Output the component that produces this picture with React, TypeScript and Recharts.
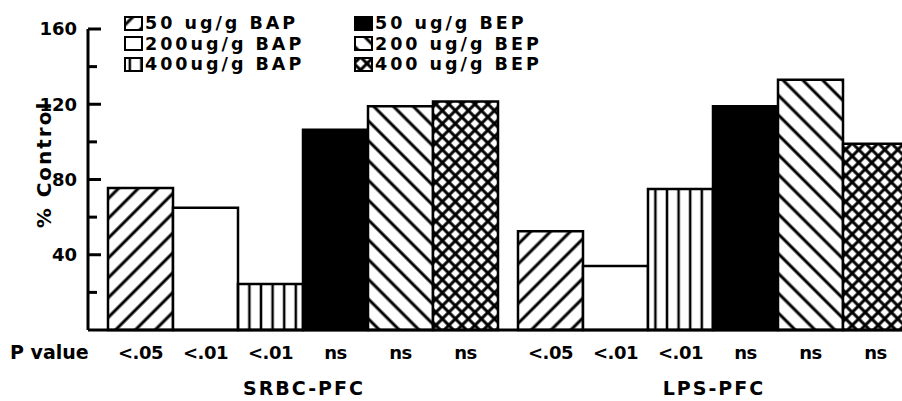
import React from "react";
import { BarChart, Bar, XAxis, YAxis, Legend, LabelList } from "recharts";

// values (% of control)
const groups = ["SRBC-PFC", "LPS-PFC"];
const bap50Values = [75.5, 52.5];
const bap200Values = [65, 34];
const bap400Values = [24.5, 75];
const bep50Values = [106.5, 119];
const bep200Values = [119, 133];
const bep400Values = [121.5, 99];

const srbcPValues = ["<.05", "<.01", "<.01", "ns", "ns", "ns"];
const lpsPValues = ["<.05", "<.01", "<.01", "ns", "ns", "ns"];

const seriesKeys = ["bap50", "bap200", "bap400", "bep50", "bep200", "bep400"];
const seriesNames = [
  "50 ug/g BAP",
  "200ug/g BAP",
  "400ug/g BAP",
  "50 ug/g BEP",
  "200 ug/g BEP",
  "400 ug/g BEP",
];
const yTicks = [0, 20, 40, 60, 80, 100, 120, 140, 160];

const seriesValues = [bap50Values, bap200Values, bap400Values, bep50Values, bep200Values, bep400Values];
const pValues = [srbcPValues, lpsPValues];

const fills = ["url(#hatchFwd)", "#fff", "url(#vLines)", "#000", "url(#hatchBack)", "url(#crossHatch)"];

const data = groups.map((g, i) => {
  const row: Record<string, string | number> = { group: g };
  seriesKeys.forEach((k, j) => {
    row[k] = seriesValues[j][i];
    row[k + "P"] = pValues[i][j];
  });
  return row;
});

const FONT = "'DejaVu Sans', sans-serif";

const YTick = (props: any) => {
  const { x, y, payload } = props;
  const v = payload.value;
  if (v === 0) return null;
  const major = v % 40 === 0;
  return (
    <g>
      <line x1={x} x2={x + (major ? 13 : 9)} y1={y} y2={y} stroke="#000" strokeWidth={3} />
      {major && (
        <text x={x - 11} y={y} dy="0.36em" textAnchor="end" fontFamily={FONT} fontWeight="bold" fontSize={18} fill="#000">
          {v}
        </text>
      )}
    </g>
  );
};

const XTick = (props: any) => {
  const { x, y, payload } = props;
  return (
    <text x={x} y={y} dy={65} textAnchor="middle" fontFamily={FONT} fontWeight="bold" fontSize={19} letterSpacing={2} fill="#000">
      {payload.value}
    </text>
  );
};

const PLabel = (props: any) => {
  const { x, y, width, height, value } = props;
  return (
    <text x={x + width / 2} y={y + height + 29} textAnchor="middle" fontFamily={FONT} fontWeight="bold" fontSize={18} letterSpacing={-0.5} fill="#000">
      {value}
    </text>
  );
};

const LegendBox = () => (
  <div
    style={{
      display: "grid",
      gridTemplateColumns: "230px 230px",
      gridTemplateRows: "repeat(3, 20.5px)",
      gridAutoFlow: "column",
      fontFamily: FONT,
      fontWeight: "bold",
      fontSize: 17.5,
      lineHeight: "20.5px",
      color: "#000",
    }}
  >
    {seriesNames.map((name, i) => (
      <div key={name} style={{ display: "flex", alignItems: "center", height: 20.5, whiteSpace: "pre" }}>
        <svg width={19} height={15} style={{ flex: "none" }}>
          <rect x={1} y={1} width={17} height={13} fill={fills[i]} stroke="#000" strokeWidth={2} />
        </svg>
        <span style={{ marginLeft: 2, letterSpacing: 3 }}>{name}</span>
      </div>
    ))}
  </div>
);

export default function App() {
  return (
    <div style={{ position: "absolute", left: 0, top: 0, width: 902, height: 401, overflow: "hidden", background: "#fff" }}>
      <BarChart
        width={930}
        height={401}
        data={data}
        margin={{ top: 29, right: 11, bottom: 0, left: 0 }}
        barGap={0}
        barCategoryGap={9}
      >
        <defs>
          <pattern id="hatchFwd" patternUnits="userSpaceOnUse" width={14} height={14} patternTransform="rotate(45)">
            <rect width={14} height={14} fill="#fff" />
            <line x1={7} y1={0} x2={7} y2={14} stroke="#000" strokeWidth={3} />
          </pattern>
          <pattern id="hatchBack" patternUnits="userSpaceOnUse" width={14} height={14} patternTransform="rotate(-45)">
            <rect width={14} height={14} fill="#fff" />
            <line x1={7} y1={0} x2={7} y2={14} stroke="#000" strokeWidth={3} />
          </pattern>
          <pattern id="vLines" patternUnits="userSpaceOnUse" width={11.6} height={10}>
            <rect width={11.6} height={10} fill="#fff" />
            <line x1={5.8} y1={0} x2={5.8} y2={10} stroke="#000" strokeWidth={2.5} />
          </pattern>
          <pattern id="crossHatch" patternUnits="userSpaceOnUse" width={9.2} height={9.2} patternTransform="rotate(45)">
            <rect width={9.2} height={9.2} fill="#fff" />
            <line x1={4.6} y1={0} x2={4.6} y2={9.2} stroke="#000" strokeWidth={3} />
            <line x1={0} y1={4.6} x2={9.2} y2={4.6} stroke="#000" strokeWidth={3} />
          </pattern>
        </defs>
        <XAxis
          dataKey="group"
          height={71}
          padding={{ left: 11, right: 0 }}
          axisLine={{ stroke: "#000", strokeWidth: 3 }}
          tickLine={false}
          tickSize={0}
          tickMargin={0}
          tick={<XTick />}
          label={{
            content: (p: any) => (
              <text x={p.viewBox.x - 78} y={p.viewBox.y + 29} fontFamily={FONT} fontWeight="bold" fontSize={19} fill="#000">
                P value
              </text>
            ),
          }}
        />
        <YAxis
          width={88}
          domain={[0, 160]}
          ticks={yTicks}
          interval={0}
          axisLine={{ stroke: "#000", strokeWidth: 3 }}
          tickLine={false}
          tickSize={0}
          tickMargin={0}
          tick={<YTick />}
          label={{
            content: (p: any) => (
              <text
                x={p.viewBox.x + 44}
                y={p.viewBox.y + p.viewBox.height / 2 - 15}
                transform={`rotate(-90, ${p.viewBox.x + 44}, ${p.viewBox.y + p.viewBox.height / 2 - 15})`}
                textAnchor="middle"
                dy="0.36em"
                fontFamily={FONT}
                fontWeight="bold"
                fontSize={20}
                letterSpacing={2}
                fill="#000"
              >
                % Control
              </text>
            ),
          }}
        />
        <Legend
          layout="horizontal"
          verticalAlign="middle"
          align="center"
          content={<LegendBox />}
          wrapperStyle={{ position: "absolute", left: 124, top: 13, width: "auto" }}
        />
        {seriesKeys.map((k, i) => (
          <Bar key={k} dataKey={k} name={seriesNames[i]} fill={fills[i]} stroke="#000" strokeWidth={2.5} isAnimationActive={false}>
            <LabelList dataKey={k + "P"} content={<PLabel />} />
          </Bar>
        ))}
      </BarChart>
    </div>
  );
}
